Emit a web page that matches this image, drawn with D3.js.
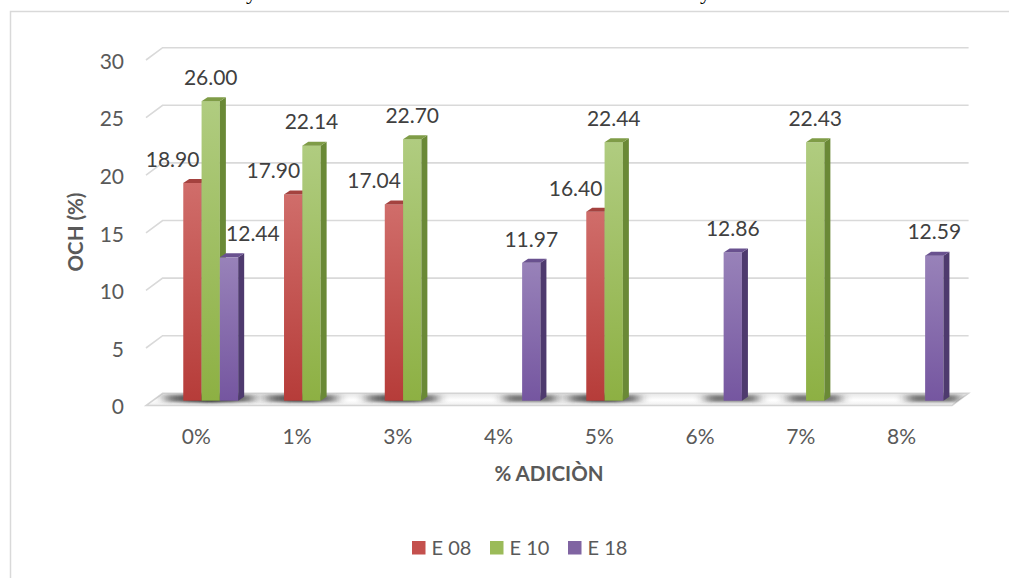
<!DOCTYPE html>
<html><head><meta charset="utf-8">
<script src="https://cdn.jsdelivr.net/npm/d3@7"></script>
<style>body{margin:0;background:#fff;}svg{display:block;}</style>
</head><body><svg id="c" width="1009" height="578"></svg>
<script>
const categories = ["0%","1%","3%","4%","5%","6%","7%","8%"];
const seriesNames = ["E 08","E 10","E 18"];
const e08 = [18.90,17.90,17.04,null,16.40,null,null,null];
const e10 = [26.00,22.14,22.70,null,22.44,null,22.43,null];
const e18 = [12.44,null,null,11.97,null,12.86,null,12.59];
const yTicks = [0,5,10,15,20,25,30];
const yTitle = "OCH (%)";
const xTitle = "% ADICIÒN";

const series = [e08,e10,e18];
const pal = [
  {top:"#d06d6a",bot:"#b63c39",side:"#8a3431",cap:"#a4423f",leg:"#c4504d"},
  {top:"#b0cc80",bot:"#8db043",side:"#6a8936",cap:"#7f9c47",leg:"#9bbb59"},
  {top:"#9882b9",bot:"#7556a0",side:"#4e3a6e",cap:"#69518f",leg:"#8064a2"}
];

const svg = d3.select("#c");
const defs = svg.append("defs");
pal.forEach((p,i)=>{
  const g = defs.append("linearGradient").attr("id","g"+i).attr("x1",0).attr("y1",0).attr("x2",0).attr("y2",1);
  g.append("stop").attr("offset","0%").attr("stop-color",p.top);
  g.append("stop").attr("offset","100%").attr("stop-color",p.bot);
});
defs.append("filter").attr("id","blur").attr("x","-50%").attr("y","-50%").attr("width","200%").attr("height","200%")
  .append("feGaussianBlur").attr("stdDeviation","6 1.5");

// geometry
const depthX = 16.6, depthY = 12.3;
const frontLeft = 146, frontRight = 952;
const frontZero = 405.6, unit = 11.52;
const barDepthF = 0.4;
const bdx = 6, bdy = 4;
const barW = 18.3;

const x = d3.scaleBand().domain(categories).range([frontLeft, frontRight]).padding(0);
const yFront = d3.scaleLinear().domain([0,30]).range([frontZero, frontZero - 30*unit]);
const yBack = d3.scaleLinear().domain([0,30]).range([frontZero - depthY, frontZero - depthY - 30*unit]);
const yBar = d3.scaleLinear().domain([0,30]).range([frontZero - depthY*barDepthF, frontZero - depthY*barDepthF - 30*unit]);
const barOffset = d3.scaleBand().domain([0,1,2]).range([0, 3*barW]);
const groupShift = -13.1;

// chart border
svg.append("path").attr("d","M10.5,578 V11.5 H1009").attr("fill","none").attr("stroke","#d9d9d9").attr("stroke-width",1.5);

// cut-off text above chart (only descenders visible, as in the reference)
svg.append("text").attr("x",246).attr("y",-1).attr("font-family","Liberation Serif").attr("font-size",22).attr("fill","#000").text("y");
svg.append("text").attr("x",700).attr("y",-1).attr("font-family","Liberation Serif").attr("font-size",22).attr("fill","#000").text("y");

// gridlines
const grid = svg.append("g");
yTicks.filter(t=>t>0).forEach(t=>{
  grid.append("path")
    .attr("d",`M${frontLeft},${yFront(t)} L${frontLeft+depthX},${yBack(t)} H${frontRight+depthX}`)
    .attr("fill","none").attr("stroke","#d9d9d9").attr("stroke-width",1.6);
});

// floor
const floorPts = [[frontLeft+depthX,yBack(0)],[frontRight+depthX,yBack(0)],[frontRight,yFront(0)],[frontLeft,yFront(0)]];
defs.append("clipPath").attr("id","floorClip").append("polygon").attr("points",floorPts.map(p=>p.join(",")).join(" "));
const fg = defs.append("linearGradient").attr("id","floorG").attr("x1",0).attr("y1",0).attr("x2",0).attr("y2",1);
fg.append("stop").attr("offset","0%").attr("stop-color","#e6e6e6");
fg.append("stop").attr("offset","55%").attr("stop-color","#ffffff");
fg.append("stop").attr("offset","100%").attr("stop-color","#eeeeee");
svg.append("polygon").attr("points",floorPts.map(p=>p.join(",")).join(" "))
  .attr("fill","url(#floorG)").attr("stroke","#d4d4d4").attr("stroke-width",1.5);

// shadows
const shadowG = svg.append("g").attr("clip-path","url(#floorClip)");
categories.forEach((c,ci)=>{
  series.forEach((s,si)=>{
    if (s[ci]==null) return;
    const bx = x(c) + x.bandwidth()/2 + groupShift + barOffset(si);
    shadowG.append("rect").attr("x",bx-18).attr("y",yBack(0)+1.5).attr("width",barW+bdx+28).attr("height",depthY-5)
      .attr("fill","#222").attr("opacity",0.6).attr("filter","url(#blur)");
  });
});

// bars
const bars = svg.append("g");
const labels = [];
categories.forEach((c,ci)=>{
  series.forEach((s,si)=>{
    const v = s[ci];
    if (v==null) return;
    const bx = x(c) + x.bandwidth()/2 + groupShift + barOffset(si);
    const y0 = yBar(0), y1 = yBar(v);
    const p = pal[si];
    bars.append("rect").attr("x",bx).attr("y",y1).attr("width",barW).attr("height",y0-y1).attr("fill",`url(#g${si})`);
    bars.append("polygon").attr("points",`${bx+barW},${y1} ${bx+barW+bdx},${y1-bdy} ${bx+barW+bdx},${y0-bdy} ${bx+barW},${y0}`).attr("fill",p.side);
    bars.append("polygon").attr("points",`${bx},${y1} ${bx+bdx},${y1-bdy} ${bx+barW+bdx},${y1-bdy} ${bx+barW},${y1}`).attr("fill",p.cap);
    labels.push({ci,si,v,bx,y1});
  });
});

// data labels
const lblG = svg.append("g").attr("font-family","Lato").attr("font-size",21).attr("fill","#404040").attr("text-anchor","middle");
labels.forEach(l=>{
  let cx = l.bx + barW/2;
  const halfW = 27;
  const green = e10[l.ci];
  if (l.si===0 && green!=null) cx = Math.min(cx, l.bx + barW - halfW - 2);
  if (l.si===2 && green!=null) cx = Math.max(cx, l.bx + bdx + halfW);
  lblG.append("text").attr("x",cx).attr("y",l.y1 - 23.5).attr("dy","0.35em").text(d3.format(".2f")(l.v));
});

// y tick labels
svg.append("g").attr("font-family","Lato").attr("font-size",21).attr("fill","#595959").attr("text-anchor","end")
  .selectAll("text").data(yTicks).join("text")
  .attr("x",124).attr("y",d=>yFront(d)+1.5).attr("dy","0.35em").text(d=>d);

// x tick labels
svg.append("g").attr("font-family","Lato").attr("font-size",21).attr("fill","#595959").attr("text-anchor","middle")
  .selectAll("text").data(categories).join("text")
  .attr("x",d=>x(d)+x.bandwidth()/2).attr("y",437).attr("dy","0.35em").text(d=>d);

// axis titles
svg.append("text").attr("transform","translate(76,232) rotate(-90)").attr("text-anchor","middle").attr("dy","0.35em")
  .attr("font-family","Lato").attr("font-weight","bold").attr("font-size",20.5).attr("fill","#595959").text(yTitle);
svg.append("text").attr("x",549).attr("y",474).attr("text-anchor","middle").attr("dy","0.35em")
  .attr("font-family","Lato").attr("font-weight","bold").attr("font-size",20.5).attr("fill","#595959").text(xTitle);

// legend
const legX = [412, 490, 568];
const leg = svg.append("g");
seriesNames.forEach((n,i)=>{
  leg.append("rect").attr("x",legX[i]).attr("y",541).attr("width",13.5).attr("height",13.5).attr("fill",pal[i].leg);
  leg.append("text").attr("x",legX[i]+19.5).attr("y",548).attr("dy","0.35em").attr("font-family","Lato").attr("font-size",20)
    .attr("fill","#595959").text(n);
});
</script></body></html>
